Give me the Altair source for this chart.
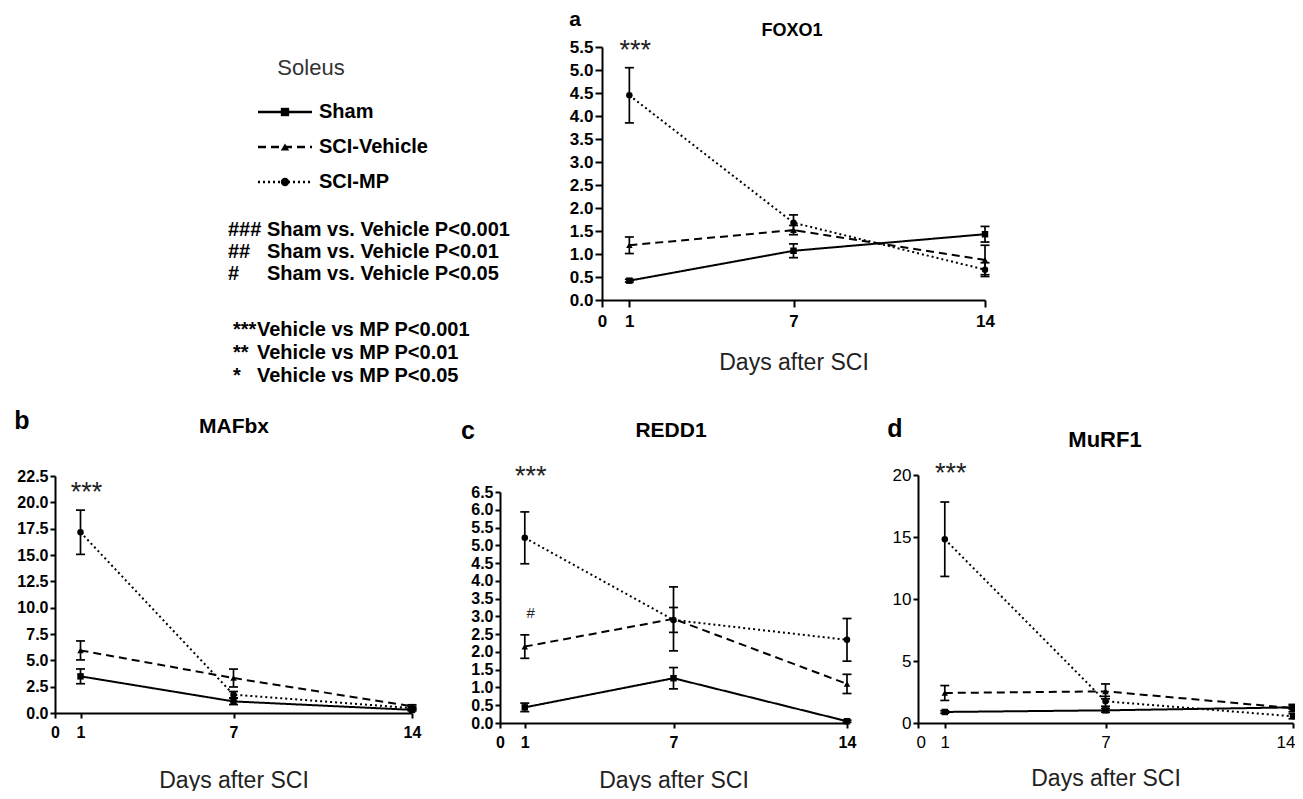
import altair as alt
import pandas as pd

# ---------------- data ----------------
days = [1, 7, 14]
series = ["Sham", "SCI-Vehicle", "SCI-MP"]

foxo1_sham = [0.42, 1.07, 1.43]
foxo1_sham_err = [0.03, 0.15, 0.17]
foxo1_veh = [1.19, 1.52, 0.87]
foxo1_veh_err = [0.18, 0.10, 0.32]
foxo1_mp = [4.45, 1.68, 0.66]
foxo1_mp_err = [0.60, 0.17, 0.15]

mafbx_sham = [3.48, 1.10, 0.30]
mafbx_sham_err = [0.70, 0.30, 0.10]
mafbx_veh = [5.94, 3.32, 0.63]
mafbx_veh_err = [0.90, 0.85, 0.15]
mafbx_mp = [17.16, 1.74, 0.47]
mafbx_mp_err = [2.10, 0.30, 0.15]

redd1_sham = [0.44, 1.26, 0.05]
redd1_sham_err = [0.12, 0.30, 0.03]
redd1_veh = [2.15, 2.93, 1.10]
redd1_veh_err = [0.33, 0.90, 0.27]
redd1_mp = [5.21, 2.90, 2.34]
redd1_mp_err = [0.73, 0.35, 0.60]

murf1_sham = [0.89, 1.02, 1.26]
murf1_sham_err = [0.10, 0.15, 0.15]
murf1_veh = [2.42, 2.55, 1.20]
murf1_veh_err = [0.60, 0.60, 0.30]
murf1_mp = [14.82, 1.75, 0.54]
murf1_mp_err = [3.00, 0.40, 0.20]

x_ticks = [0, 1, 7, 14]
foxo1_ticks = [0.0, 0.5, 1.0, 1.5, 2.0, 2.5, 3.0, 3.5, 4.0, 4.5, 5.0, 5.5]
mafbx_ticks = [0.0, 2.5, 5.0, 7.5, 10.0, 12.5, 15.0, 17.5, 20.0, 22.5]
redd1_ticks = [0.0, 0.5, 1.0, 1.5, 2.0, 2.5, 3.0, 3.5, 4.0, 4.5, 5.0, 5.5, 6.0, 6.5]
murf1_ticks = [0, 5, 10, 15, 20]

# significance marks (panel, day, value, text)
sig_panel = ["FOXO1", "MAFbx", "REDD1", "MuRF1", "REDD1"]
sig_day = [1, 1, 1, 1, 1]
sig_value = [5.41, 20.9, 6.92, 20.1, 3.1]
sig_text = ["***", "***", "***", "***", "#"]

legend_symbols_a = ["###", "##", "#"]
legend_texts_a = ["Sham vs. Vehicle P<0.001", "Sham vs. Vehicle P<0.01", "Sham vs. Vehicle P<0.05"]
legend_symbols_b = ["***", "**", "*"]
legend_texts_b = ["Vehicle vs MP P<0.001", "Vehicle vs MP  P<0.01", "Vehicle vs MP  P<0.05"]

panels = {
    "FOXO1": [(foxo1_sham, foxo1_sham_err), (foxo1_veh, foxo1_veh_err), (foxo1_mp, foxo1_mp_err)],
    "MAFbx": [(mafbx_sham, mafbx_sham_err), (mafbx_veh, mafbx_veh_err), (mafbx_mp, mafbx_mp_err)],
    "REDD1": [(redd1_sham, redd1_sham_err), (redd1_veh, redd1_veh_err), (redd1_mp, redd1_mp_err)],
    "MuRF1": [(murf1_sham, murf1_sham_err), (murf1_veh, murf1_veh_err), (murf1_mp, murf1_mp_err)],
}

rows = []
for pname, sers in panels.items():
    for sname, (vals, errs) in zip(series, sers):
        for d, v, e in zip(days, vals, errs):
            rows.append(dict(panel=pname, series=sname, day=d, mean=v, lo=max(v - e, 0), hi=v + e))
df = pd.DataFrame(rows)
caps = pd.concat([
    df.assign(cap=df["lo"]),
    df.assign(cap=df["hi"]),
])
sig = pd.DataFrame(dict(panel=sig_panel, day=sig_day, value=sig_value, text=sig_text))

# ---------------- layout ----------------
W, H = 1287, 783
FONT = "Liberation Sans"

dash_scale = alt.Scale(domain=series, range=[[1, 0], [8, 5], [2, 3]])
shape_scale = alt.Scale(domain=series, range=["square", "triangle-up", "circle"])

cfg = {
    "FOXO1": dict(xr=[594, 977], yr=[292, 39], yd=[0, 5.5], ticks=foxo1_ticks, fmt=".1f",
                  ls=17, lw="bold", ts=7, tp=22, flush=False),
    "MAFbx": dict(xr=[47, 404], yr=[705, 468], yd=[0, 22.5], ticks=mafbx_ticks, fmt=".1f",
                  ls=16, lw="bold", ts=5, tp=29, flush=False),
    "REDD1": dict(xr=[492, 839], yr=[715, 484], yd=[0, 6.5], ticks=redd1_ticks, fmt=".1f",
                  ls=16, lw="bold", ts=5, tp=19, flush=False),
    "MuRF1": dict(xr=[910, 1285], yr=[715, 467], yd=[0, 20], ticks=murf1_ticks, fmt="d",
                  ls=17, lw="normal", ts=5, tp=17, flush=True),
}

layers = []
for pname, c in cfg.items():
    d = df[df.panel == pname]
    xs = alt.Scale(domain=[0, 14], range=c["xr"], nice=False, zero=False)
    ys = alt.Scale(domain=c["yd"], range=c["yr"], nice=False, zero=False)
    flush_kw = dict(labelFlush=1, labelFlushOffset=2) if c["flush"] else dict(labelFlush=False)
    xaxis = alt.Axis(orient="bottom", offset=c["yr"][0] - H, values=x_ticks, format="d",
                     title="Days after SCI", titleFont=FONT, titleFontSize=23, titleFontWeight="normal",
                     titleColor="#222", titlePadding=c["tp"], labelFont=FONT, labelFontSize=c["ls"],
                     labelFontWeight=c["lw"], labelColor="black", labelPadding=6, tickSize=c["ts"],
                     tickColor="black", tickWidth=2, domainColor="black", domainWidth=2, grid=False,
                     labelOverlap=False, **flush_kw)
    yaxis = alt.Axis(orient="left", offset=-c["xr"][0], values=c["ticks"], format=c["fmt"], title=None,
                     labelFont=FONT, labelFontSize=c["ls"], labelFontWeight=c["lw"], labelColor="black",
                     labelPadding=2, tickSize=c["ts"], tickColor="black", tickWidth=2, domainColor="black",
                     domainWidth=2, grid=False, labelFlush=False, labelOverlap=False)

    base = alt.Chart(d)
    lines = base.mark_line(color="black", strokeWidth=2).encode(
        x=alt.X("day:Q", scale=xs, axis=xaxis),
        y=alt.Y("mean:Q", scale=ys, axis=yaxis),
        strokeDash=alt.StrokeDash("series:N", scale=dash_scale, legend=None),
        detail="series:N",
    )
    bars = base.mark_rule(color="black", strokeWidth=1.7).encode(
        x=alt.X("day:Q", scale=xs, axis=None),
        y=alt.Y("lo:Q", scale=ys, axis=None),
        y2="hi:Q",
    )
    capm = alt.Chart(caps[caps.panel == pname]).mark_tick(
        color="black", orient="horizontal", size=9, thickness=1.7, opacity=1
    ).encode(
        x=alt.X("day:Q", scale=xs, axis=None),
        y=alt.Y("cap:Q", scale=ys, axis=None),
    )
    pts = base.mark_point(filled=True, size=42, color="black", opacity=1).encode(
        x=alt.X("day:Q", scale=xs, axis=None),
        y=alt.Y("mean:Q", scale=ys, axis=None),
        shape=alt.Shape("series:N", scale=shape_scale, legend=None),
    )
    s = sig[sig.panel == pname]
    stars = alt.Chart(s).mark_text(font=FONT, color="#222", baseline="middle", align="center", dx=6).encode(
        x=alt.X("day:Q", scale=xs, axis=None),
        y=alt.Y("value:Q", scale=ys, axis=None),
        text="text:N",
        size=alt.condition(alt.datum.text == "#", alt.value(15), alt.value(27)),
    )
    layers += [lines, bars, capm, pts, stars]


def label(txt, x, y, size, weight="bold", align="center", color="black", baseline="middle"):
    return alt.Chart(pd.DataFrame({"t": [txt]})).mark_text(
        font=FONT, fontSize=size, fontWeight=weight, align=align, baseline=baseline, color=color
    ).encode(x=alt.value(x), y=alt.value(y), text="t:N")


# panel letters & titles
layers += [
    label("a", 567, 12, 21),
    label("FOXO1", 784, 23, 18),
    label("b", 14, 413, 25),
    label("MAFbx", 226, 419, 21),
    label("c", 460, 423, 25),
    label("REDD1", 663, 423, 21),
    label("d", 887, 421, 25),
    label("MuRF1", 1097, 432, 22),
    label("Soleus", 303, 60, 22, weight="normal", color="#333"),
]

# legend block
leg = pd.DataFrame({"series": series, "idx": [0, 1, 2]})
ly = alt.Scale(domain=[0, 2], range=[104, 174], nice=False, zero=False)
layers += [
    alt.Chart(leg).mark_rule(color="black", strokeWidth=2.4).encode(
        x=alt.value(250), x2=alt.value(304),
        y=alt.Y("idx:Q", scale=ly, axis=None),
        strokeDash=alt.StrokeDash("series:N", scale=alt.Scale(domain=series, range=[[1, 0], [9, 6], [5, 4]]), legend=None),
    ),
    alt.Chart(leg).mark_point(filled=True, size=70, color="black", opacity=1).encode(
        x=alt.value(277),
        y=alt.Y("idx:Q", scale=ly, axis=None),
        shape=alt.Shape("series:N", scale=shape_scale, legend=None),
    ),
    alt.Chart(leg).mark_text(font=FONT, fontSize=20, fontWeight="bold", align="left", baseline="middle").encode(
        x=alt.value(311),
        y=alt.Y("idx:Q", scale=ly, axis=None),
        text="series:N",
    ),
]

sa = pd.DataFrame({"sym": legend_symbols_a, "txt": legend_texts_a, "idx": [0, 1, 2]})
sb = pd.DataFrame({"sym": legend_symbols_b, "txt": legend_texts_b, "idx": [0, 1, 2]})
ya = alt.Scale(domain=[0, 2], range=[222, 266], nice=False, zero=False)
yb = alt.Scale(domain=[0, 2], range=[322, 368], nice=False, zero=False)
for dd, ysc, xsym, xtxt in [(sa, ya, 220, 259), (sb, yb, 225, 249)]:
    layers += [
        alt.Chart(dd).mark_text(font=FONT, fontSize=20, fontWeight="bold", align="left", baseline="middle").encode(
            x=alt.value(xsym), y=alt.Y("idx:Q", scale=ysc, axis=None), text="sym:N"),
        alt.Chart(dd).mark_text(font=FONT, fontSize=20, fontWeight="bold", align="left", baseline="middle").encode(
            x=alt.value(xtxt), y=alt.Y("idx:Q", scale=ysc, axis=None), text="txt:N"),
    ]

chart = alt.layer(*layers).resolve_scale(
    x="independent", y="independent"
).properties(
    width=W, height=H, autosize=alt.AutoSizeParams(type="none"), padding=0, background="white"
).configure_view(stroke=None)

chart.save("out.html", embed_options={"renderer": "svg", "actions": False})
